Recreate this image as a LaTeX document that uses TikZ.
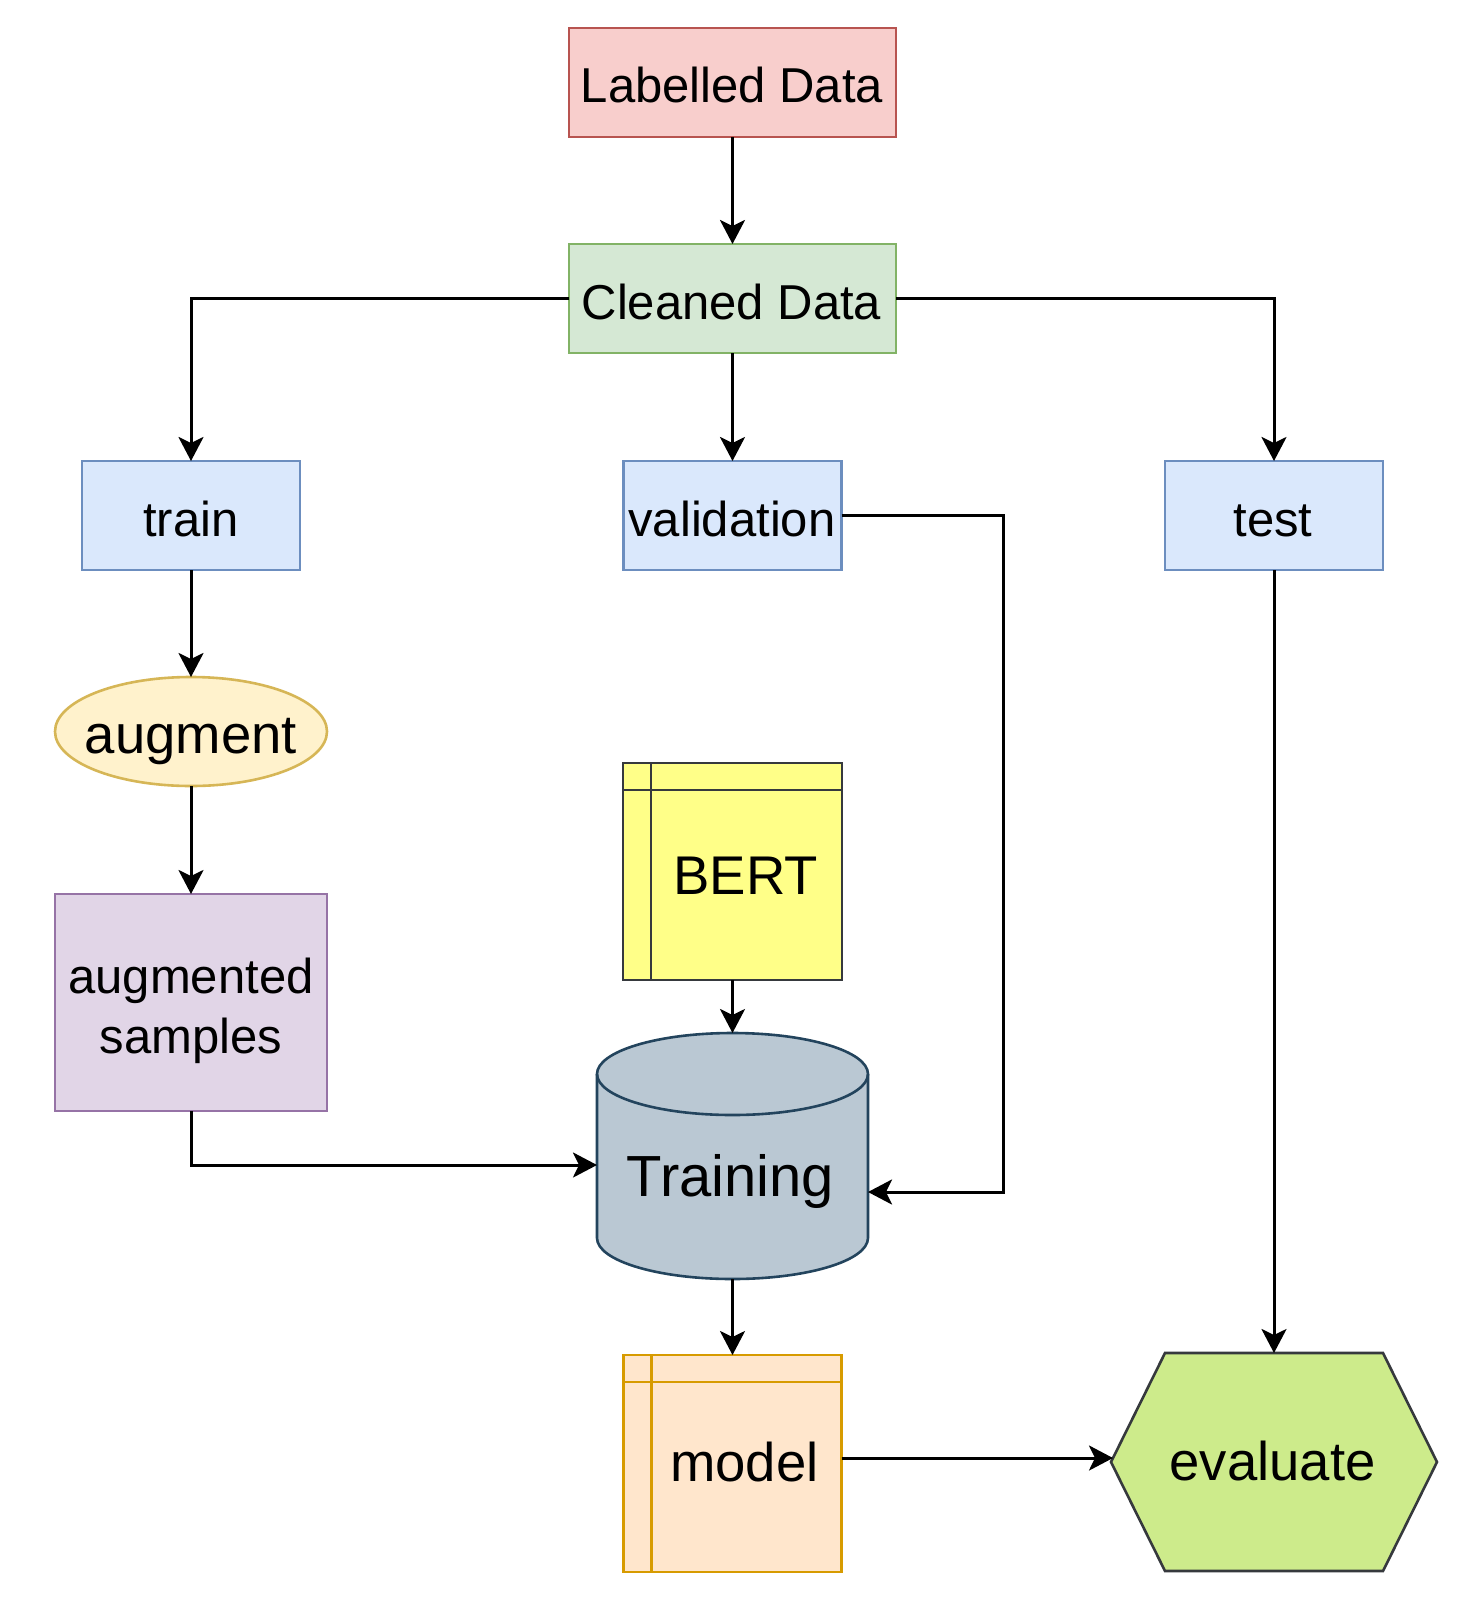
\documentclass[tikz,border=0pt]{standalone}
\usepackage{fontspec}
\setmainfont{Liberation Sans}
\usetikzlibrary{arrows.meta,shapes.geometric}
\definecolor{labF}{HTML}{F8CECC}\definecolor{labD}{HTML}{B85450}
\definecolor{clnF}{HTML}{D5E8D4}\definecolor{clnD}{HTML}{82B366}
\definecolor{bluF}{HTML}{DAE8FC}\definecolor{bluD}{HTML}{6C8EBF}
\definecolor{augF}{HTML}{FFF2CC}\definecolor{augD}{HTML}{D6B656}
\definecolor{smpF}{HTML}{E1D5E7}\definecolor{smpD}{HTML}{9673A6}
\definecolor{brtF}{HTML}{FFFF88}\definecolor{brtD}{HTML}{36393D}
\definecolor{cylF}{HTML}{BAC8D3}\definecolor{cylD}{HTML}{23445D}
\definecolor{mdlF}{HTML}{FFE6CC}\definecolor{mdlD}{HTML}{D79B00}
\definecolor{evlF}{HTML}{CDEB8B}\definecolor{evlD}{HTML}{36393D}
\tikzset{
  box/.style={rectangle, draw, line width=1.3pt, inner sep=0pt, outer sep=0pt},
  wide/.style={box, minimum width=163.5pt, minimum height=54.5pt},
  small/.style={box, minimum width=109pt, minimum height=54.5pt},
  txt/.style={inner sep=0pt, outer sep=0pt, anchor=base, font=\fontsize{24.5pt}{29.4pt}\selectfont},
  txtL/.style={txt, font=\fontsize{27.25pt}{32pt}\selectfont},
  txtXL/.style={txt, font=\fontsize{29pt}{34pt}\selectfont},
  arr/.style={line width=1.5pt, -{Stealth[length=12pt,width=12.5pt,inset=3pt]}},
}
\begin{document}
\begin{tikzpicture}[x=0.5pt,y=-0.5pt]
\useasboundingbox (0,0) rectangle (1465,1600);
% nodes
\node[wide, fill=labF, draw=labD] (lab) at (732.5,82.5) {};
\node[wide, fill=clnF, draw=clnD] (cln) at (732.5,298.5) {};
\node[small, fill=bluF, draw=bluD] (train) at (191,515.5) {};
\node[small, fill=bluF, draw=bluD] (val) at (732.5,515.5) {};
\node[small, fill=bluF, draw=bluD] (test) at (1274,515.5) {};
\node[ellipse, draw=augD, fill=augF, line width=1.3pt, inner sep=0pt, outer sep=0pt,
      minimum width=136pt, minimum height=54.5pt] (aug) at (191,731.5) {};
\node[box, fill=smpF, draw=smpD, minimum width=136pt, minimum height=108.5pt] (smp) at (191,1002.5) {};
\node[box, fill=brtF, draw=brtD, minimum width=109.5pt, minimum height=108.5pt] (bert) at (732.5,871.5) {};
\draw[brtD, line width=1.3pt] ([xshift=14pt]bert.north west) -- ([xshift=14pt]bert.south west);
\draw[brtD, line width=1.3pt] ([yshift=-13.5pt]bert.north west) -- ([yshift=-13.5pt]bert.north east);
\node[box, fill=mdlF, draw=mdlD, minimum width=109pt, minimum height=108.5pt] (model) at (732.5,1463.5) {};
\draw[mdlD, line width=1.3pt] ([xshift=14pt]model.north west) -- ([xshift=14pt]model.south west);
\draw[mdlD, line width=1.3pt] ([yshift=-13.5pt]model.north west) -- ([yshift=-13.5pt]model.north east);
% cylinder
\node[rectangle, inner sep=0pt, outer sep=0pt, minimum width=135.5pt, minimum height=123pt] (cyl) at (732.5,1156) {};
\draw[line width=1.3pt, draw=cylD, fill=cylF]
  (597,1074) -- (597,1238) arc[start angle=180, end angle=360, x radius=67.75pt, y radius=20.5pt]
  -- (868,1074) arc[start angle=0, end angle=180, x radius=67.75pt, y radius=20.5pt] -- cycle;
\draw[line width=1.3pt, draw=cylD] (597,1074) arc[start angle=180, end angle=360, x radius=67.75pt, y radius=20.5pt];
% hexagon
\node[rectangle, inner sep=0pt, outer sep=0pt, minimum width=163pt, minimum height=109pt] (eval) at (1274,1462) {};
\draw[line width=1.3pt, draw=evlD, fill=evlF]
  (1111,1462) -- (1165,1353) -- (1383,1353) -- (1437,1462) -- (1383,1571) -- (1165,1571) -- cycle;
\coordinate (evalW) at (1113,1458);
% texts
\node[txt] (tlab) at (732,103) {Labelled Data};
\node[txt] (tcln) at (731.5,319) {Cleaned Data};
\node[txt] (ttrain) at (191,536) {train};
\node[txt] (tval) at (732,536) {validation};
\node[txt] (ttest) at (1273,536) {test};
\node[txtL] (taug) at (191,753) {augment};
\node[txt] (tsmp1) at (191,993.5) {augmented};
\node[txt] (tsmp2) at (191,1053) {samples};
\node[txtL] (tbert) at (745.5,894) {BERT};
\node[txtXL] (tcyl) at (730.5,1196) {Training};
\node[txtL] (tmodel) at (744.5,1481) {model};
\node[txtL] (teval) at (1272.5,1480) {evaluate};
% connectors
\draw[arr] (lab.south) -- (cln.north);
\draw[arr] (cln.west) -| (train.north);
\draw[arr] (cln.south) -- (val.north);
\draw[arr] (cln.east) -| (test.north);
\draw[arr] (val.east) -- ++(162,0) |- ([yshift=-18pt]cyl.east);
\draw[arr] (train.south) -- (aug.north);
\draw[arr] (aug.south) -- (smp.north);
\draw[arr] (smp.south) |- ([yshift=-4.5pt]cyl.west);
\draw[arr] (bert.south) -- (cyl.north);
\draw[arr] (cyl.south) -- (model.north);
\draw[arr] (test.south) -- (eval.north);
\draw[arr] ([yshift=2.75pt]model.east) -- (evalW);
\end{tikzpicture}
\end{document}
